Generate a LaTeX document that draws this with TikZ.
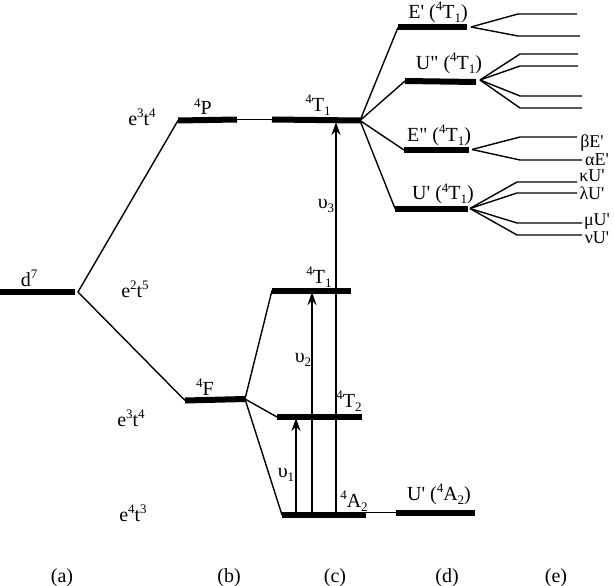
\documentclass[tikz,border=0pt]{standalone}
\usepackage{fontspec}
\newfontfamily\labfont{Liberation Serif}
\usetikzlibrary{arrows.meta}
\newcommand{\up}[1]{\raisebox{8pt}{\fontsize{13}{13}\selectfont #1}}
\newcommand{\dn}[1]{\raisebox{-4pt}{\fontsize{13}{13}\selectfont #1}}
\tikzset{
  x=1pt,y=-1pt,
  lab/.style={font=\labfont\fontsize{20}{20}\selectfont,anchor=base,inner sep=0pt,outer sep=0pt},
  sublab/.style={lab,font=\labfont\fontsize{18}{18}\selectfont},
  level/.style={line width=6pt},
  tie/.style={line width=1.4pt},
  thin tie/.style={line width=1.1pt},
  trans/.style={line width=1.4pt,-{Stealth[length=13pt,width=9pt]}},
}
\begin{document}
\begin{tikzpicture}
\useasboundingbox (0,0) rectangle (614,586);
% named points
\coordinate (d1) at (0,292); \coordinate (d2) at (75,292); \coordinate (dhub) at (78,292);
\coordinate (P1) at (178,120.5); \coordinate (P2) at (237,119.5);
\coordinate (F1) at (185,400.5); \coordinate (F2) at (245,399);
\coordinate (Ta1) at (272,119.5); \coordinate (Ta2) at (360,120.5);
\coordinate (Tb1) at (272,290.5); \coordinate (Tb2) at (351,290.5);
\coordinate (Tc1) at (277,417); \coordinate (Tc2) at (362,417);
\coordinate (A1) at (282,515); \coordinate (A2) at (366,515);
\coordinate (A3) at (366,512.5);
\coordinate (UA1) at (396,512.5); \coordinate (UA2) at (475,512.5);
\coordinate (E1) at (398,27.5); \coordinate (E2) at (467,27.5);
\coordinate (Ud1) at (405,81); \coordinate (Ud2) at (476,82);
\coordinate (Ed1) at (404,150); \coordinate (Ed2) at (469,150);
\coordinate (Up1) at (395,208.5); \coordinate (Up2) at (468,208.5);
% levels
\foreach \a/\b in {d1/d2,P1/P2,F1/F2,Ta1/Ta2,Tb1/Tb2,Tc1/Tc2,A1/A2,UA1/UA2,E1/E2,Ud1/Ud2,Ed1/Ed2,Up1/Up2}
  \draw[level] (\a) -- (\b);
% correlation lines
\draw[tie] (P1) -- (dhub) -- (F1);
\draw[thin tie] (P2) -- (Ta1);
\draw[thin tie] (A3) -- (UA1);
\draw[tie] (Tb1) -- (F2) -- (Tc1);
\draw[tie] (F2) -- (A1);
\draw[tie] (E1) -- (Ta2) -- (Ud1);
\draw[tie] (Ed1) -- (Ta2) -- (Up1);
% final splitting
\coordinate (Ea) at (471,27); \coordinate (Ub) at (480,80);
\coordinate (Ec) at (472,149.5); \coordinate (Ud) at (470,208.5);
\draw[tie] (Ea) -- (518,14) -- (577,14);
\draw[tie] (Ea) -- (518,36) -- (580,36);
\draw[tie] (Ub) -- (520,54) -- (578,54);
\draw[tie] (Ub) -- (520,66) -- (578,66);
\draw[tie] (Ub) -- (520,96) -- (582,96);
\draw[tie] (Ub) -- (520,108) -- (582,108);
\draw[tie] (Ec) -- (520,137) -- (577,137);
\draw[tie] (Ec) -- (520,160) -- (582,160);
\draw[tie] (Ud) -- (517,182) -- (577,182);
\draw[tie] (Ud) -- (517,193) -- (577,193);
\draw[tie] (Ud) -- (517,223) -- (582,223);
\draw[tie] (Ud) -- (517,235) -- (582,235);
% transitions
\coordinate (v1a) at (296,515); \coordinate (v1b) at (296,418);
\coordinate (v2a) at (312,515); \coordinate (v2b) at (312,292);
\coordinate (v3a) at (336,515); \coordinate (v3b) at (336,122);
\draw[trans] (v1a) -- (v1b);
\draw[trans] (v2a) -- (v2b);
\draw[trans] (v3a) -- (v3b);
% labels
\node[lab] (ld) at (29,286) {d\up{7}};
\node[lab] (le1) at (142,125) {e\up{3}t\up{4}};
\node[lab] (le2) at (135,297) {e\up{2}t\up{5}};
\node[lab] (le3) at (131,426) {e\up{3}t\up{4}};
\node[lab] (le4) at (133,521) {e\up{4}t\up{3}};
\node[lab] (lP) at (203,115) {\up{4}P};
\node[lab] (lF) at (205,395) {\up{4}F};
\node[lab] (lTa) at (318,112) {\up{4}T\dn{1}};
\node[lab] (lTb) at (319,283) {\up{4}T\dn{1}};
\node[lab] (lTc) at (349,407) {\up{4}T\dn{2}};
\node[lab] (lA) at (354,507) {\up{4}A\dn{2}};
\node[lab] (lUA) at (439,500) {U' (\up{4}A\dn{2})};
\node[lab] (lv1) at (286,477) {υ\dn{1}};
\node[lab] (lv2) at (303,362) {υ\dn{2}};
\node[lab] (lv3) at (326,208) {υ\dn{3}};
\node[lab] (lE) at (438,19) {E' (\up{4}T\dn{1})};
\node[lab] (lUd) at (449,70) {U" (\up{4}T\dn{1})};
\node[lab] (lEd) at (439,142) {E" (\up{4}T\dn{1})};
\node[lab] (lUp) at (443,200) {U' (\up{4}T\dn{1})};
\node[sublab] (lbe) at (592,147) {βE'};
\node[sublab] (lae) at (597,165) {αE'};
\node[sublab] (lku) at (592,182) {κU'};
\node[sublab] (llu) at (592,199) {λU'};
\node[sublab] (lmu) at (597,225) {μU'};
\node[sublab] (lnu) at (597,243) {νU'};
\node[lab] (ca) at (62,582) {(a)};
\node[lab] (cb) at (229,582) {(b)};
\node[lab] (cc) at (335,582) {(c)};
\node[lab] (cd) at (447,582) {(d)};
\node[lab] (ce) at (556,582) {(e)};
\end{tikzpicture}
\end{document}
